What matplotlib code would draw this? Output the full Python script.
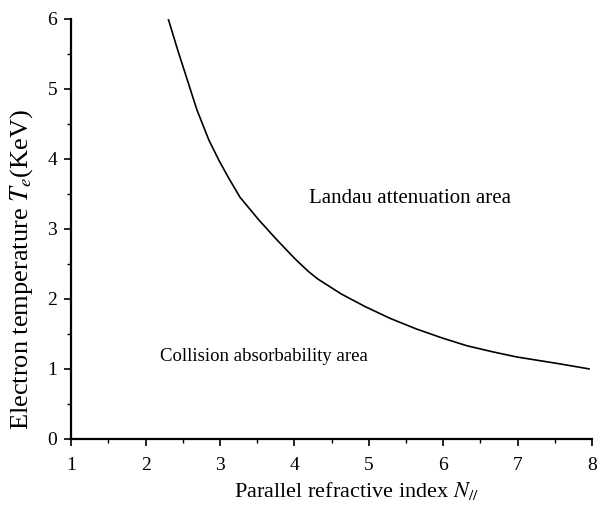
import matplotlib.pyplot as plt
from matplotlib.ticker import MultipleLocator

# 曲线数据
n_par = [2.29, 2.43, 2.56, 2.69, 2.85, 2.99, 3.12, 3.27, 3.52, 3.75, 4.01, 4.19,
         4.32, 4.63, 4.95, 5.29, 5.64, 5.99, 6.32, 6.68, 6.99, 7.52, 7.96]
t_e = [6.05, 5.56, 5.13, 4.70, 4.27, 3.97, 3.72, 3.45, 3.13, 2.86, 2.57, 2.39,
       2.28, 2.07, 1.89, 1.72, 1.57, 1.44, 1.33, 1.24, 1.17, 1.08, 1.00]

x_ticks = [1, 2, 3, 4, 5, 6, 7, 8]
y_ticks = [0, 1, 2, 3, 4, 5, 6]

plt.rcParams['font.family'] = ['Liberation Serif', 'DejaVu Serif']
plt.rcParams['mathtext.fontset'] = 'stix'

fig = plt.figure(figsize=(5.98, 5.08), dpi=100)
ax = fig.add_axes([0.119, 0.136, 0.871, 0.827])

ax.plot(n_par, t_e, color='black', linewidth=1.2)

ax.set_xlim(1, 8)
ax.set_ylim(0, 6)
ax.set_xticks(x_ticks)
ax.set_yticks(y_ticks)
ax.xaxis.set_minor_locator(MultipleLocator(0.5))
ax.yaxis.set_minor_locator(MultipleLocator(0.5))
ax.tick_params(which='major', direction='out', length=5, width=1.2, labelsize=14)
ax.tick_params(axis='x', which='major', pad=8)
ax.tick_params(axis='y', which='major', pad=5)
ax.tick_params(which='minor', direction='out', length=3, width=1.0)

for side in ['top', 'right']:
    ax.spines[side].set_visible(False)
for side in ['left', 'bottom']:
    ax.spines[side].set_linewidth(1.6)

# 坐标轴标题（位置按参考图手动放置）
fig.text(356 / 598, 1 - 491 / 508, r'Parallel refractive index $N_{//}$',
         fontsize=16, ha='center', va='center')
fig.text(22 / 598, 1 - 270 / 508, r'Electron temperature $T_e$(KeV)',
         fontsize=19, rotation=90, ha='center', va='center')

ax.text(4.19, 3.44, 'Landau attenuation area', fontsize=15, va='center', ha='left')
ax.text(2.19, 1.17, 'Collision absorbability area', fontsize=13.5, va='center', ha='left')

fig.savefig('out.png', dpi=100)
